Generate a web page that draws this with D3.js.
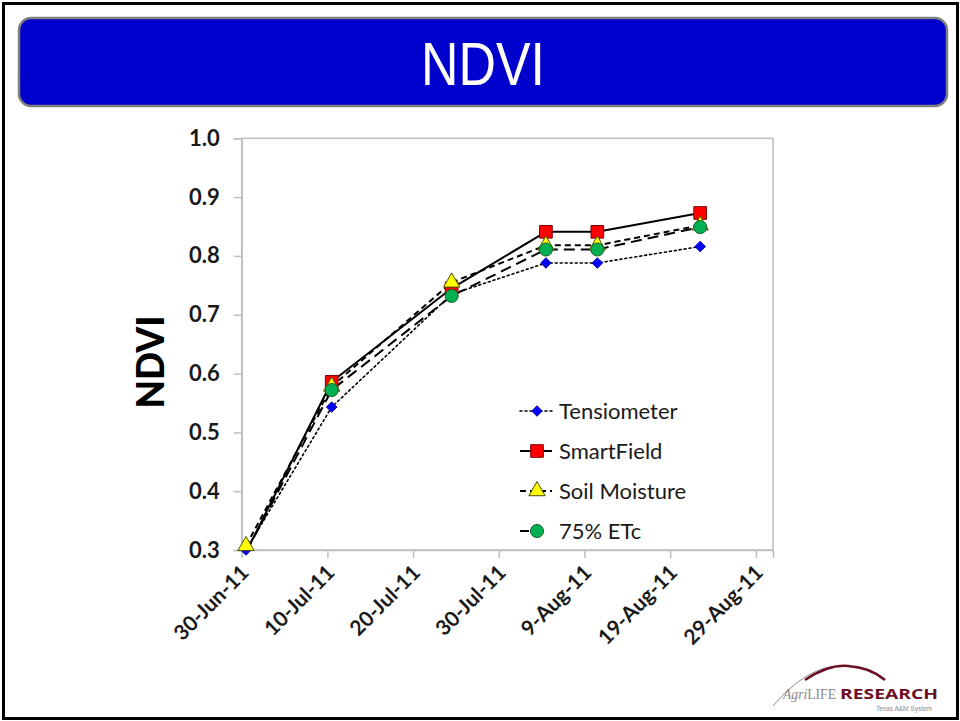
<!DOCTYPE html>
<html>
<head>
<meta charset="utf-8">
<script src="https://cdn.jsdelivr.net/npm/d3@7/dist/d3.min.js"></script>
<style>
  html, body { margin: 0; padding: 0; background: #fff; }
  svg { display: block; }
</style>
</head>
<body>
<svg id="chart" width="960" height="721"></svg>
<script>
// Sampling dates
const dates = ["2011-06-30", "2011-07-10", "2011-07-24", "2011-08-04", "2011-08-10", "2011-08-22"];

// NDVI by irrigation treatment
const tensiometer  = [0.300, 0.543, 0.735, 0.788, 0.788, 0.816];
const smartField   = [0.296, 0.586, 0.745, 0.841, 0.841, 0.873];
const soilMoisture = [0.307, 0.578, 0.755, 0.818, 0.818, 0.852];
const etc75        = [0.296, 0.572, 0.732, 0.811, 0.811, 0.849];

const seriesNames = ["Tensiometer", "SmartField", "Soil Moisture", "75% ETc"];

// Axis ticks
const xTickDates  = ["2011-06-30", "2011-07-10", "2011-07-20", "2011-07-30", "2011-08-09", "2011-08-19", "2011-08-29"];
const xTickLabels = ["30-Jun-11", "10-Jul-11", "20-Jul-11", "30-Jul-11", "9-Aug-11", "19-Aug-11", "29-Aug-11"];
const yTicks      = [0.3, 0.4, 0.5, 0.6, 0.7, 0.8, 0.9, 1.0];

const parse = d3.utcParse("%Y-%m-%d");
const svg = d3.select("#chart");
const FONT = "Lato, 'Open Sans', sans-serif";

// Slide frame
svg.append("rect").attr("x", 0).attr("y", 0).attr("width", 960).attr("height", 721).attr("fill", "#fff");
svg.append("rect")
  .attr("x", 3.5).attr("y", 3.5).attr("width", 954).attr("height", 715)
  .attr("fill", "none").attr("stroke", "#000").attr("stroke-width", 3);

// Title banner
svg.append("rect")
  .attr("x", 19).attr("y", 18).attr("width", 928).attr("height", 88)
  .attr("rx", 12).attr("ry", 12)
  .attr("fill", "#0000CC").attr("stroke", "#808080").attr("stroke-width", 2.5);
svg.append("text")
  .attr("x", 483).attr("y", 85)
  .attr("text-anchor", "middle")
  .attr("fill", "#fff")
  .attr("font-family", "'Liberation Sans Narrow', 'Arial Narrow', 'Liberation Sans', sans-serif")
  .attr("font-size", 62)
  .attr("textLength", 124).attr("lengthAdjust", "spacingAndGlyphs")
  .text("NDVI");

// Plot area
const plot = { left: 241.7, right: 773, top: 138.3, bottom: 550 };

const x = d3.scaleUtc()
  .domain([parse("2011-06-30"), parse("2011-08-31")])
  .range([plot.left, plot.right]);
const y = d3.scaleLinear()
  .domain([0.3, 1.0])
  .range([plot.bottom, plot.top]);

// Points sit mid-day on the date axis
const xPos = s => x(d3.utcHour.offset(parse(s), 12));

svg.append("clipPath").attr("id", "plot-clip")
  .append("rect")
  .attr("x", plot.left).attr("y", plot.top)
  .attr("width", plot.right - plot.left).attr("height", plot.bottom - plot.top);

const AX = "#BFBFBF";
svg.append("rect")
  .attr("x", plot.left).attr("y", plot.top)
  .attr("width", plot.right - plot.left).attr("height", plot.bottom - plot.top)
  .attr("fill", "none").attr("stroke", AX).attr("stroke-width", 1.5);

// Y axis
const yAxis = svg.append("g")
  .attr("transform", `translate(${plot.left},0)`)
  .call(d3.axisLeft(y).tickValues(yTicks).tickFormat(d3.format(".1f")).tickSize(8).tickPadding(14));
yAxis.select(".domain").attr("stroke", AX).attr("stroke-width", 1.5);
yAxis.selectAll(".tick line").attr("stroke", AX).attr("stroke-width", 1.5);
yAxis.selectAll(".tick text")
  .attr("font-family", FONT).attr("font-weight", "bold").attr("font-size", 22).attr("fill", "#1a1a1a");

// X axis
const xAxis = svg.append("g")
  .attr("transform", `translate(0,${plot.bottom})`)
  .call(d3.axisBottom(x).tickValues(xTickDates.map(parse))
    .tickFormat((d, i) => xTickLabels[i]).tickSize(8));
xAxis.select(".domain").attr("stroke", AX).attr("stroke-width", 1.5);
xAxis.selectAll(".tick line").attr("stroke", AX).attr("stroke-width", 1.5);
xAxis.selectAll(".tick text")
  .attr("font-family", FONT).attr("font-weight", "bold").attr("font-size", 21).attr("fill", "#1a1a1a")
  .attr("text-anchor", "end")
  .attr("dy", null).attr("y", 0)
  .attr("transform", "translate(8,24) rotate(-45)");

// Y axis title
svg.append("text")
  .attr("transform", "translate(164,362) rotate(-90)")
  .attr("text-anchor", "middle")
  .attr("font-family", FONT).attr("font-weight", "900").attr("font-size", 37).attr("fill", "#000")
  .text("NDVI");

// Series styles
const series = [
  { name: seriesNames[0], values: tensiometer,  dash: "2,3",  legendDash: "2,3",   width: 1.6, cap: "round", marker: "diamond",  fill: "#0000FF", stroke: "#0000A0" },
  { name: seriesNames[1], values: smartField,   dash: null,   legendDash: null,    width: 2,   cap: "butt",  marker: "square",   fill: "#FF0000", stroke: "#7F0000" },
  { name: seriesNames[2], values: soilMoisture, dash: "6,4",  legendDash: "6,4",   width: 2,   cap: "butt",  marker: "triangle", fill: "#FFFF00", stroke: "#4d4d00" },
  { name: seriesNames[3], values: etc75,        dash: "11,6", legendDash: "9,40",  width: 2,   cap: "butt",  marker: "circle",   fill: "#00B050", stroke: "#1f5f2f" }
];

const symbolFor = m => ({
  diamond: d3.symbol().type(d3.symbolDiamond2).size(70),
  square: d3.symbol().type(d3.symbolSquare).size(160),
  triangle: d3.symbol().type(d3.symbolTriangle).size(115),
  circle: d3.symbol().type(d3.symbolCircle).size(135)
})[m];

const line = d3.line().x(d => d[0]).y(d => d[1]);

// Lines, clipped to the plot area
const lines = svg.append("g").attr("clip-path", "url(#plot-clip)");
[0, 1, 2, 3].forEach(i => {
  const s = series[i];
  const pts = dates.map((dt, j) => [xPos(dt), y(s.values[j])]);
  lines.append("path")
    .attr("d", line(pts))
    .attr("fill", "none").attr("stroke", "#000")
    .attr("stroke-width", s.width)
    .attr("stroke-dasharray", s.dash)
    .attr("stroke-linecap", s.cap)
    .attr("stroke-linejoin", "round");
});

// Markers (values below the axis minimum get no marker)
[0, 1, 2, 3].forEach(i => {
  const s = series[i];
  const sym = symbolFor(s.marker);
  svg.append("g").selectAll("path")
    .data(dates.map((dt, j) => [xPos(dt), s.values[j]]).filter(d => d[1] >= 0.3))
    .join("path")
    .attr("d", sym)
    .attr("transform", d => `translate(${d[0]},${y(d[1])})`)
    .attr("fill", s.fill).attr("stroke", s.stroke).attr("stroke-width", 1);
});

// Legend
const legend = svg.append("g").attr("transform", "translate(520,411)");
series.forEach((s, i) => {
  const g = legend.append("g").attr("transform", `translate(0,${i * 40})`);
  g.append("line")
    .attr("x1", 0).attr("x2", 32).attr("y1", 0).attr("y2", 0)
    .attr("stroke", "#000").attr("stroke-width", s.width)
    .attr("stroke-dasharray", s.legendDash)
    .attr("stroke-linecap", s.cap);
  g.append("path")
    .attr("d", symbolFor(s.marker))
    .attr("transform", "translate(17,0)")
    .attr("fill", s.fill).attr("stroke", s.stroke).attr("stroke-width", 1);
  g.append("text")
    .attr("x", 39).attr("y", 0).attr("dy", "0.35em")
    .attr("font-family", FONT).attr("font-size", 22).attr("fill", "#1a1a1a")
    .text(s.name);
});

// Institutional mark, lower right
const logo = svg.append("g");
logo.append("path")
  .attr("d", "M773,706 C795,680 820,664 845,666 C862,667 876,673 884,680")
  .attr("fill", "none").attr("stroke", "#8b8b8b").attr("stroke-width", 1);
logo.append("path")
  .attr("d", "M805,680 C820,670 835,665 848,666 C864,667 877,673 885,680")
  .attr("fill", "none").attr("stroke", "#6b0f24").attr("stroke-width", 2.5);
logo.append("text")
  .attr("x", 783).attr("y", 699)
  .attr("font-family", "'Liberation Serif', 'DejaVu Serif', serif")
  .attr("font-size", 15).attr("fill", "#8a8a8a")
  .attr("textLength", 53).attr("lengthAdjust", "spacingAndGlyphs")
  .call(t => {
    t.append("tspan").attr("font-style", "italic").text("Agri");
    t.append("tspan").text("LIFE");
  });
logo.append("text")
  .attr("x", 840).attr("y", 699)
  .attr("font-family", "'Open Sans', 'Liberation Sans', sans-serif")
  .attr("font-weight", "bold").attr("font-size", 15).attr("fill", "#6b0f24")
  .attr("textLength", 98).attr("lengthAdjust", "spacingAndGlyphs")
  .text("RESEARCH");
logo.append("text")
  .attr("x", 876).attr("y", 711)
  .attr("font-family", "'Liberation Sans', sans-serif")
  .attr("font-size", 6.5).attr("fill", "#8a8a8a")
  .text("Texas A&M System");
</script>
</body>
</html>
